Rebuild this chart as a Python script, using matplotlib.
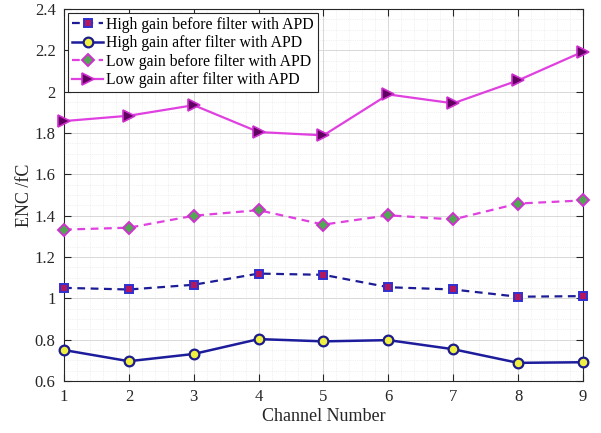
import matplotlib
matplotlib.use("Agg")
import matplotlib.pyplot as plt
from matplotlib.ticker import MultipleLocator

channels = [1, 2, 3, 4, 5, 6, 7, 8, 9]
high_before = [1.051, 1.043, 1.066, 1.120, 1.114, 1.054, 1.043, 1.008, 1.011]
high_after = [0.750, 0.696, 0.731, 0.803, 0.792, 0.798, 0.754, 0.688, 0.691]
low_before = [1.333, 1.342, 1.400, 1.427, 1.357, 1.402, 1.382, 1.459, 1.474]
low_after = [1.858, 1.884, 1.935, 1.805, 1.789, 1.987, 1.944, 2.055, 2.194]
labels = ["High gain before filter with APD", "High gain after filter with APD",
          "Low gain before filter with APD", "Low gain after filter with APD"]

plt.rcParams['font.family'] = ['Liberation Serif', 'DejaVu Serif']

fig = plt.figure(figsize=(6.01, 4.33), dpi=100)
ax = fig.add_axes([0.1065, 0.12, 0.8635, 0.859])

ax.plot(channels, high_before, linestyle=(0, (3.5, 2.5)), color='#1c1c96', lw=1.6,
        marker='s', ms=6, mfc='#b01860', mec='#3030d0', mew=1.4, label=labels[0],
        zorder=3, clip_on=False)
ax.plot(channels, high_after, linestyle='-', color='#1c1c9c', lw=1.8,
        marker='o', ms=7, mfc='#f0f040', mec='#1c1c8c', mew=1.6, label=labels[1],
        zorder=3, clip_on=False)
ax.plot(channels, low_before, linestyle=(0, (3.5, 2.5)), color='#e040e0', lw=1.6,
        marker='D', ms=6, mfc='#50a850', mec='#d030d0', mew=1.4, label=labels[2],
        zorder=3, clip_on=False)
ax.plot(channels, low_after, linestyle='-', color='#e040e0', lw=1.6,
        marker='>', ms=8, mfc='#600060', mec='#d030d0', mew=1.2, label=labels[3],
        zorder=3, clip_on=False)

ax.set_xlim(1, 9)
ax.set_ylim(0.6, 2.4)
ax.xaxis.set_major_locator(MultipleLocator(1))
ax.xaxis.set_minor_locator(MultipleLocator(0.2))
ax.yaxis.set_major_locator(MultipleLocator(0.2))
ax.yaxis.set_minor_locator(MultipleLocator(0.05))
ax.set_yticks([0.6, 0.8, 1.0, 1.2, 1.4, 1.6, 1.8, 2.0, 2.2, 2.4])
ax.set_yticklabels(['0.6', '0.8', '1', '1.2', '1.4', '1.6', '1.8', '2', '2.2', '2.4'])

ax.grid(which='major', color='#d8d8d8', lw=0.7)
ax.grid(which='minor', color='#e4e4e4', lw=0.5, linestyle=':')
ax.set_axisbelow(True)
ax.tick_params(which='major', direction='in', length=5, width=0.8, colors='#262626',
               labelsize=12, labelcolor='#262626', top=True, right=True, pad=6)
ax.tick_params(which='minor', length=0, top=True, right=True)
for s in ax.spines.values():
    s.set_color('#262626')
    s.set_linewidth(0.8)

ax.set_xlabel('Channel Number', fontsize=13, color='#262626', labelpad=2)
ax.set_ylabel('ENC /fC', fontsize=13, color='#262626', labelpad=1)

leg = ax.legend(loc='upper left', fontsize=11.3, frameon=True, fancybox=False,
                edgecolor='#262626', framealpha=1, borderpad=0.25, labelspacing=0.15,
                handlelength=2.0, handletextpad=0.2, borderaxespad=0.25)
leg.get_frame().set_linewidth(0.8)

fig.savefig('out.png', dpi=100)
